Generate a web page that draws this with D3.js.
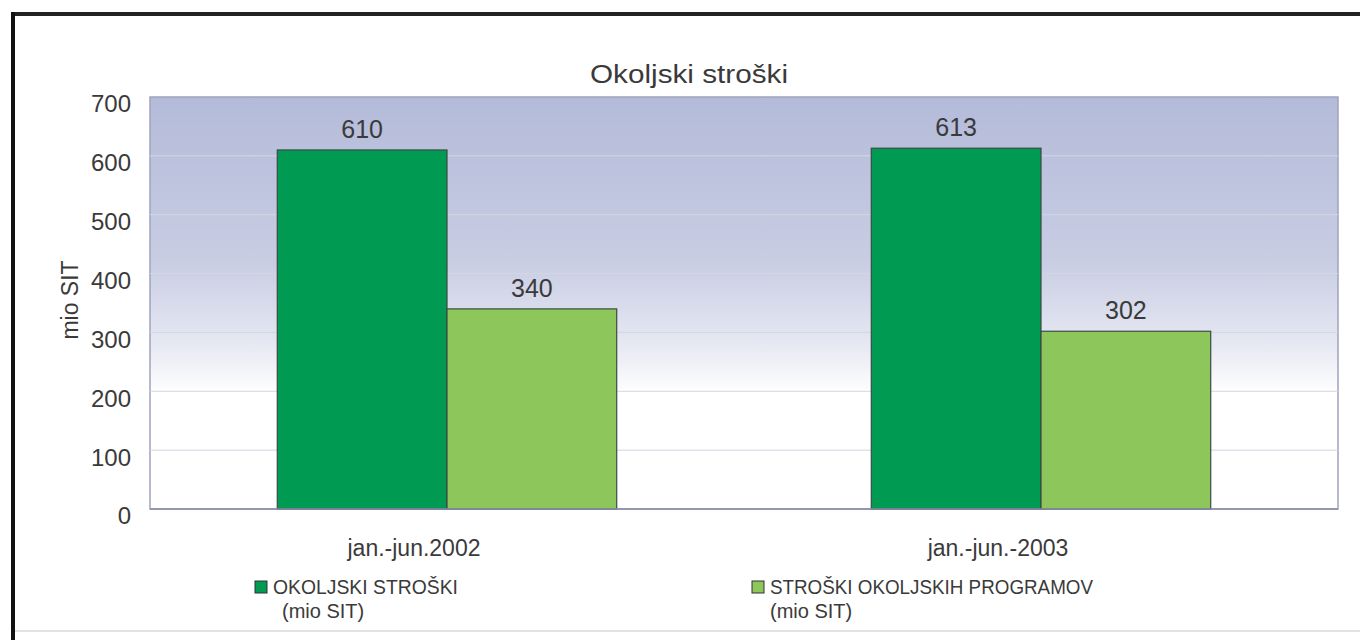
<!DOCTYPE html>
<html>
<head>
<meta charset="utf-8">
<script src="https://cdn.jsdelivr.net/npm/d3@7"></script>
<style>
  body { margin: 0; background: #fff; }
  text { font-family: "Liberation Sans", Arial, sans-serif; fill: #3a3a3a; }
</style>
</head>
<body>
<div id="chart"></div>
<script>
var categories = ["jan.-jun.2002", "jan.-jun.-2003"];
var seriesNames = ["OKOLJSKI STROŠKI", "STROŠKI OKOLJSKIH PROGRAMOV"];
var okoljskiStroski = [610, 613];
var programiStroski = [340, 302];
var yTicks = [0, 100, 200, 300, 400, 500, 600, 700];
var colors = ["#009a52", "#8dc65a"];

var w = 1360, h = 640;
var plotLeft = 150, plotRight = 1338, plotTop = 97, plotBottom = 509;

var svg = d3.select("#chart").append("svg")
    .attr("width", w).attr("height", h);

// frame
svg.append("line").attr("x1", 12).attr("x2", 1360).attr("y1", 14).attr("y2", 14)
    .attr("stroke", "#222").attr("stroke-width", 4);
svg.append("line").attr("x1", 13).attr("x2", 13).attr("y1", 12).attr("y2", 640)
    .attr("stroke", "#111").attr("stroke-width", 4);
svg.append("line").attr("x1", 15).attr("x2", 1360).attr("y1", 631).attr("y2", 631)
    .attr("stroke", "#e2e2e2").attr("stroke-width", 2);

var defs = svg.append("defs");
var grad = defs.append("linearGradient").attr("id", "bg")
    .attr("x1", 0).attr("x2", 0).attr("y1", 0).attr("y2", 1);
grad.append("stop").attr("offset", "0%").attr("stop-color", "#b4bbd9");
grad.append("stop").attr("offset", "40%").attr("stop-color", "#c8cde3");
grad.append("stop").attr("offset", "60%").attr("stop-color", "#e6e8f2");
grad.append("stop").attr("offset", "72%").attr("stop-color", "#ffffff");
grad.append("stop").attr("offset", "100%").attr("stop-color", "#ffffff");

var x0 = d3.scaleBand().domain(categories).range([plotLeft, plotRight]);
var x1 = d3.scaleBand().domain([0, 1]).range([0, x0.bandwidth()]).paddingOuter(0.75);
var y = d3.scaleLinear().domain([0, 700]).range([plotBottom, plotTop]);

// plot area
svg.append("rect").attr("x", plotLeft).attr("y", plotTop)
    .attr("width", plotRight - plotLeft).attr("height", plotBottom - plotTop)
    .attr("fill", "url(#bg)").attr("stroke", "#a0a2bc").attr("stroke-width", 1.5);

// gridlines
svg.selectAll(".grid").data(yTicks.slice(1, -1)).enter().append("line")
    .attr("x1", plotLeft).attr("x2", plotRight)
    .attr("y1", function(d) { return y(d); }).attr("y2", function(d) { return y(d); })
    .attr("stroke", "#d4d6e0").attr("stroke-width", 1);

// y axis
var yAxis = svg.append("g").attr("transform", "translate(" + plotLeft + ",0)")
    .call(d3.axisLeft(y).tickValues(yTicks).tickSize(0).tickPadding(19));
yAxis.select(".domain").remove();
yAxis.selectAll("text").style("font-size", "24px").attr("fill", "#3a3a3a")
    .attr("dy", "0.62em")
    .style("font-family", "Liberation Sans, Arial, sans-serif");

svg.append("text").attr("transform", "translate(78,300) rotate(-90)")
    .attr("text-anchor", "middle").style("font-size", "23px")
    .text("mio SIT");

svg.append("text").attr("x", 689).attr("y", 83)
    .attr("text-anchor", "middle").style("font-size", "25px")
    .attr("textLength", 198).attr("lengthAdjust", "spacingAndGlyphs")
    .text("Okoljski stroški");

// bars
var rows = categories.map(function(c, i) {
    return { cat: c, vals: [okoljskiStroski[i], programiStroski[i]] };
});
var groups = svg.selectAll(".grp").data(rows).enter().append("g")
    .attr("transform", function(d) { return "translate(" + x0(d.cat) + ",0)"; });

groups.selectAll("rect").data(function(d) { return d.vals; }).enter().append("rect")
    .attr("x", function(d, i) { return x1(i); })
    .attr("y", function(d) { return y(d); })
    .attr("width", x1.bandwidth())
    .attr("height", function(d) { return plotBottom - y(d); })
    .attr("fill", function(d, i) { return colors[i]; })
    .attr("stroke", "#3a4a44").attr("stroke-width", 1.2);

groups.selectAll(".lbl").data(function(d) { return d.vals; }).enter().append("text")
    .attr("x", function(d, i) { return x1(i) + x1.bandwidth() / 2; })
    .attr("y", function(d) { return y(d) - 12; })
    .attr("text-anchor", "middle").style("font-size", "25px")
    .text(function(d) { return d; });

// x axis line
svg.append("line").attr("x1", plotLeft).attr("x2", plotRight)
    .attr("y1", plotBottom).attr("y2", plotBottom)
    .attr("stroke", "#8a8ca8").attr("stroke-width", 1.5);

var catShift = [-33, -43];
var xAxis = svg.append("g").attr("transform", "translate(0," + plotBottom + ")")
    .call(d3.axisBottom(x0).tickSize(0).tickPadding(0));
xAxis.select(".domain").remove();
xAxis.selectAll("text").style("font-size", "23px").attr("fill", "#3a3a3a")
    .attr("dy", null).attr("y", 47)
    .attr("dx", function(d, i) { return catShift[i]; })
    .style("font-family", "Liberation Sans, Arial, sans-serif");

// legend
var legendX = [255, 752];
var legendTextLen = [185, 323];
var legend = svg.selectAll(".leg").data(seriesNames).enter().append("g")
    .attr("transform", function(d, i) { return "translate(" + legendX[i] + ",581)"; });
legend.append("rect").attr("width", 12).attr("height", 12)
    .attr("fill", function(d, i) { return colors[i]; })
    .attr("stroke", "#333").attr("stroke-width", 1);
legend.append("text").attr("x", 18).attr("y", 13)
    .style("font-size", "20px")
    .attr("textLength", function(d, i) { return legendTextLen[i]; })
    .attr("lengthAdjust", "spacingAndGlyphs")
    .text(function(d) { return d; });
legend.append("text").attr("x", function(d, i) { return i === 0 ? 27 : 18; }).attr("y", 37)
    .style("font-size", "20px").text("(mio SIT)");
</script>
</body>
</html>
